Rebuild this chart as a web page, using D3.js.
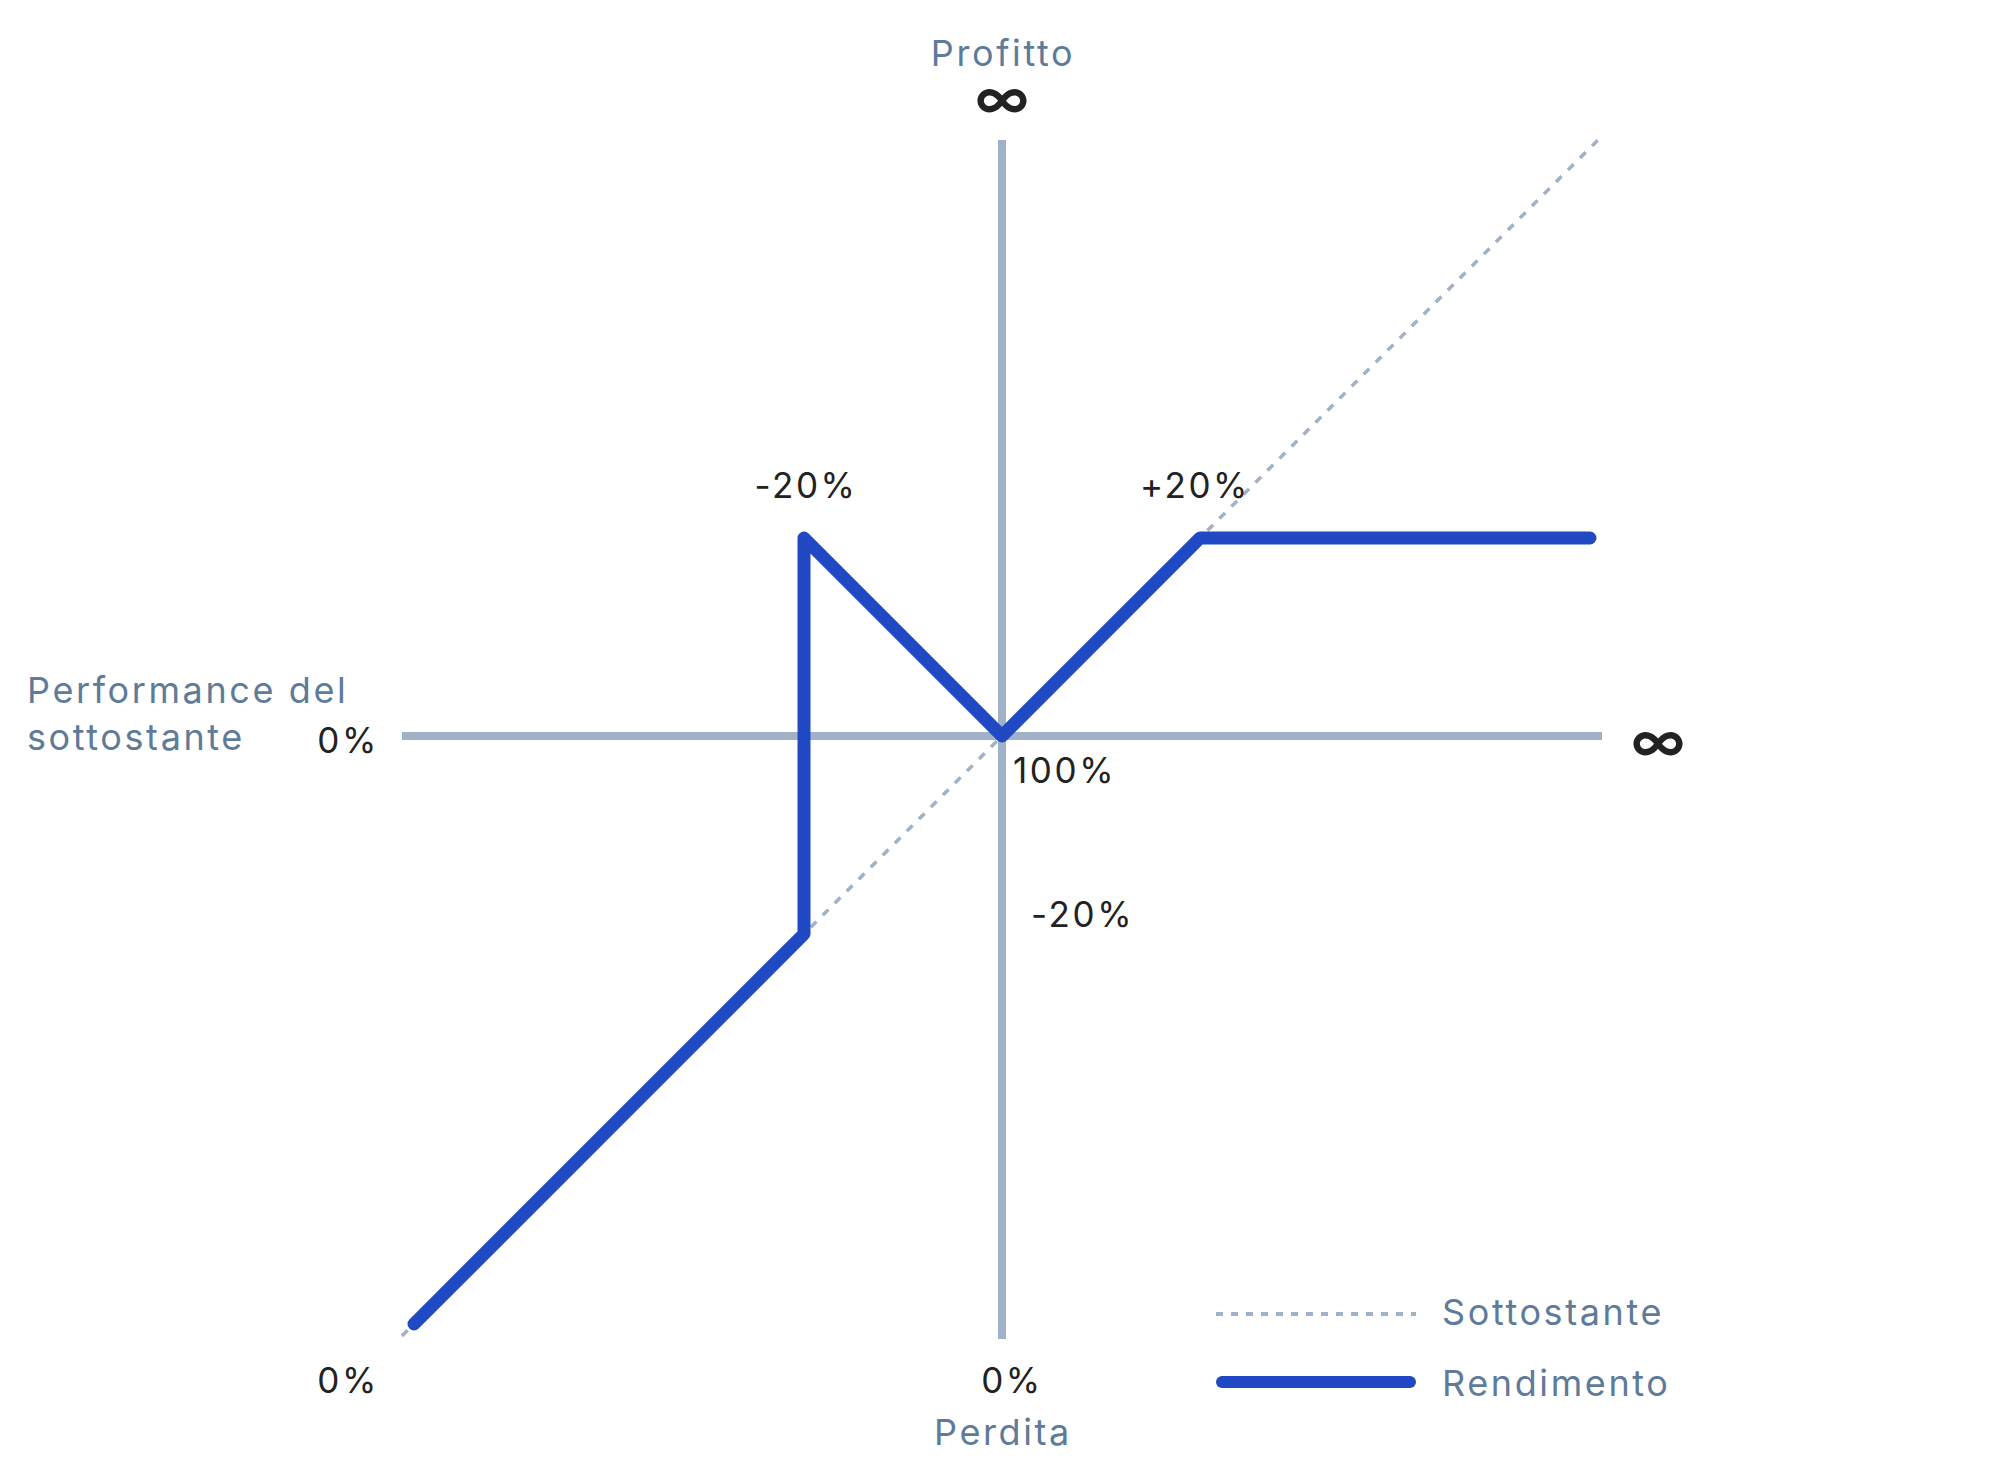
<!DOCTYPE html>
<html><head><meta charset="utf-8">
<script src="https://cdn.jsdelivr.net/npm/d3@7"></script>
<style>
html,body{margin:0;padding:0;background:#fff;}
svg{display:block;font-family:"Inter","Open Sans",sans-serif;}
</style></head>
<body>
<svg id="c" width="2000" height="1480"></svg>
<script>
// Data (performance of the underlying in %, payoff in %)
const underlyingX = [0, 200];
const underlyingY = [0, 200];
const payoffX = [2, 67, 67, 100, 133, 198];
const payoffY = [2, 67, 133, 100, 133, 133];
const seriesNames = ["Sottostante", "Rendimento"];
const axisTitles = {top: "Profitto", bottom: "Perdita", left: ["Performance del", "sottostante"]};
const tickLabels = {center: "100%", leftMid: "0%", leftBottom: "0%", bottom: "0%", barrierUp: "+20%", barrierDown: "-20%", barrierLeft: "-20%", inf: "∞"};

const svg = d3.select("#c");
const x = d3.scaleLinear().domain([0, 200]).range([402, 1602]);
const y = d3.scaleLinear().domain([0, 200]).range([1336, 136]);

const axisCol = "#9fb2c8", labelCol = "#5f7b9a", numCol = "#222", blue = "#2249c4";

// axes
svg.append("line").attr("x1", x(0)).attr("x2", x(200)).attr("y1", y(100)).attr("y2", y(100))
  .attr("stroke", axisCol).attr("stroke-width", 8);
svg.append("line").attr("x1", x(100)).attr("x2", x(100)).attr("y1", y(200) + 4).attr("y2", y(0) + 3)
  .attr("stroke", axisCol).attr("stroke-width", 8);

// underlying dotted diagonal
const line = d3.line().x(d => x(d[0])).y(d => y(d[1]));
svg.append("path").datum(d3.zip(underlyingX, underlyingY)).attr("d", line)
  .attr("fill", "none").attr("stroke", axisCol).attr("stroke-width", 3.5).attr("stroke-dasharray", "8,9");

// payoff
svg.append("path").datum(d3.zip(payoffX, payoffY)).attr("d", line)
  .attr("fill", "none").attr("stroke", blue).attr("stroke-width", 13)
  .attr("stroke-linejoin", "round").attr("stroke-linecap", "round");

// texts
const T = (tx, ty, s, o) => {
  const t = svg.append("text").attr("x", tx).attr("y", ty).text(s)
    .attr("font-size", o.size || 35).attr("fill", o.fill || numCol)
    .attr("text-anchor", o.anchor || "start")
    .attr("letter-spacing", o.ls === undefined ? 2.6 : o.ls);
  if (o.weight) t.attr("font-weight", o.weight);
  return t;
};
T(x(100) + 1, 66, axisTitles.top, {size: 36, fill: labelCol, anchor: "middle"});
T(x(100) + 1, 1445, axisTitles.bottom, {size: 36, fill: labelCol, anchor: "middle"});
T(27, 703, axisTitles.left[0], {size: 36, fill: labelCol});
T(27, 750, axisTitles.left[1], {size: 36, fill: labelCol});

T(x(100), 118, tickLabels.inf, {size: 56, anchor: "middle", weight: 600, ls: 0});
T(x(200) + 56, 761, tickLabels.inf, {size: 56, anchor: "middle", weight: 600, ls: 0});

T(379, 753, tickLabels.leftMid, {anchor: "end"});
T(379, 1393, tickLabels.leftBottom, {anchor: "end"});
T(x(100) + 10, 1393, tickLabels.bottom, {anchor: "middle"});
T(x(100) + 11, 783, tickLabels.center, {});
T(x(67) + 2, 498, tickLabels.barrierLeft, {anchor: "middle"});
T(x(133) - 5, 498, tickLabels.barrierUp, {anchor: "middle"});
T(x(100) + 29, 927, tickLabels.barrierDown, {});

// legend
const lg = svg.append("g");
lg.append("line").attr("x1", 1216).attr("x2", 1416).attr("y1", 1314).attr("y2", 1314)
  .attr("stroke", axisCol).attr("stroke-width", 4).attr("stroke-dasharray", "7,8");
lg.append("line").attr("x1", 1222).attr("x2", 1410).attr("y1", 1382).attr("y2", 1382)
  .attr("stroke", blue).attr("stroke-width", 12).attr("stroke-linecap", "round");
T(1442, 1325, seriesNames[0], {size: 36, fill: labelCol});
T(1442, 1396, seriesNames[1], {size: 36, fill: labelCol});
</script>
</body></html>
